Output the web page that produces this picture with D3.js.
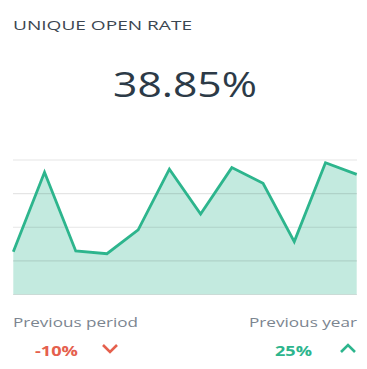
<!DOCTYPE html>
<html>
<head>
<meta charset="utf-8">
<script src="https://cdn.jsdelivr.net/npm/d3@7"></script>
<style>
  body { margin: 0; background: #fff; }
  svg { display: block; font-family: "Open Sans", sans-serif; }
</style>
</head>
<body>
<script>
// Constant
const w = 367;
const h = 369;

// Data
const periods = [1, 2, 3, 4, 5, 6, 7, 8, 9, 10, 11, 12];
const openRates = [19.1, 54.5, 19.4, 18.2, 28.8, 55.9, 35.9, 56.6, 49.6, 23.6, 58.8, 53.6];
const gridTicks = [0, 15, 30, 45, 60];
const title = 'UNIQUE OPEN RATE';
const headline = '38.85%';
const comparisons = [
  { label: 'Previous period', value: '-10%', up: false },
  { label: 'Previous year', value: '25%', up: true }
];

const green = '#2db58d';
const red = '#e5604d';

var svg = d3.select('body')
  .append('svg')
  .attr('width', w)
  .attr('height', h);

// Heading
svg.append('text')
  .attr('x', 13)
  .attr('y', 30)
  .attr('textLength', 179)
  .attr('lengthAdjust', 'spacingAndGlyphs')
  .style('font-size', '13.5px')
  .style('fill', '#3b4651')
  .text(title);

svg.append('text')
  .attr('x', 185)
  .attr('y', 97)
  .attr('text-anchor', 'middle')
  .attr('textLength', 144)
  .attr('lengthAdjust', 'spacingAndGlyphs')
  .style('font-size', '34px')
  .style('fill', '#2c3a47')
  .text(headline);

// Scales
var x = d3.scaleLinear()
  .domain(d3.extent(periods))
  .range([13.3, 356.7]);

var y = d3.scaleLinear()
  .domain([0, 60])
  .range([294.5, 160]);

// Area + line
var area = d3.area()
  .x((d, i) => x(periods[i]))
  .y0(y(0))
  .y1((d) => y(d));

var line = d3.line()
  .x((d, i) => x(periods[i]))
  .y((d) => y(d));

svg.append('path')
  .datum(openRates)
  .attr('d', area)
  .style('fill', '#c3eadf');

// gridlines on top of the fill
svg.selectAll('line.grid')
  .data(gridTicks)
  .enter()
  .append('line')
  .attr('class', 'grid')
  .attr('x1', 13)
  .attr('x2', 357)
  .attr('y1', (d) => y(d))
  .attr('y2', (d) => y(d))
  .style('stroke', '#000')
  .style('stroke-opacity', 0.1)
  .style('stroke-width', 1.2);

svg.append('path')
  .datum(openRates)
  .attr('d', line)
  .style('fill', 'none')
  .style('stroke', green)
  .style('stroke-width', 2.8)
  .style('stroke-linejoin', 'miter');

// Comparisons
var cmp = svg.selectAll('g.cmp')
  .data(comparisons)
  .enter()
  .append('g')
  .attr('class', 'cmp');

cmp.append('text')
  .attr('x', (d, i) => i === 0 ? 13 : 357)
  .attr('y', 327)
  .attr('text-anchor', (d, i) => i === 0 ? 'start' : 'end')
  .attr('textLength', (d, i) => i === 0 ? 125 : 108)
  .attr('lengthAdjust', 'spacingAndGlyphs')
  .style('font-size', '13px')
  .style('fill', '#7b8590')
  .text((d) => d.label);

cmp.append('text')
  .attr('x', (d, i) => i === 0 ? 35 : 275)
  .attr('y', 356)
  .attr('textLength', (d, i) => i === 0 ? 43 : 37)
  .attr('lengthAdjust', 'spacingAndGlyphs')
  .style('font-size', '13.5px')
  .style('font-weight', 'bold')
  .style('fill', (d) => d.up ? green : red)
  .text((d) => d.value);

// chevrons
cmp.append('path')
  .attr('d', (d, i) => {
    var cx = i === 0 ? 110 : 348;
    return d.up
      ? `M${cx - 7},${352} L${cx},${345} L${cx + 7},${352}`
      : `M${cx - 7},${345} L${cx},${352} L${cx + 7},${345}`;
  })
  .style('fill', 'none')
  .style('stroke', (d) => d.up ? green : red)
  .style('stroke-width', 2.6);
</script>
</body>
</html>
